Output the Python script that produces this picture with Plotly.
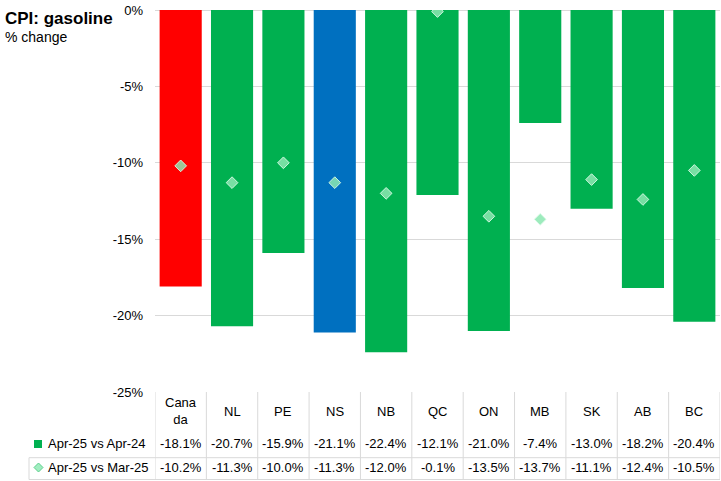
import plotly.graph_objects as go

categories = ["Canada", "NL", "PE", "NS", "NB", "QC", "ON", "MB", "SK", "AB", "BC"]
category_labels = ["Cana<br>da", "NL", "PE", "NS", "NB", "QC", "ON", "MB", "SK", "AB", "BC"]
yoy = [-18.1, -20.7, -15.9, -21.1, -22.4, -12.1, -21.0, -7.4, -13.0, -18.2, -20.4]
mom = [-10.2, -11.3, -10.0, -11.3, -12.0, -0.1, -13.5, -13.7, -11.1, -12.4, -10.5]
series_names = ["Apr-25 vs Apr-24", "Apr-25 vs Mar-25"]
tick_vals = [0, -5, -10, -15, -20, -25]

GREEN = "#00b050"
RED = "#ff0000"
BLUE = "#0070c0"
bar_colors = [RED if c == "Canada" else BLUE if c == "NS" else GREEN for c in categories]
FONT = "Liberation Sans"
GRID = "#d9d9d9"

W, H = 721, 481
L, R, T, B = 155, 1, 10, 89
PW, PH = W - L - R, H - T - B


def px(xp):
    return (xp - L) / PW


def py(yp):
    return (H - B - yp) / PH


fig = go.Figure()
fig.add_trace(go.Bar(x=categories, y=yoy, marker=dict(color=bar_colors, line=dict(width=0)),
                     name=series_names[0], showlegend=False))
fig.add_trace(go.Scatter(x=categories, y=mom, mode="markers", name=series_names[1], showlegend=False,
                         marker=dict(symbol="diamond", size=9, color="rgba(140,232,178,0.85)",
                                     line=dict(color="rgba(220,250,232,0.9)", width=1))))

n = len(categories)
shapes = []
# vertical table lines
for i in range(n + 1):
    shapes.append(dict(type="line", xref="x", yref="paper", x0=i - 0.5, x1=i - 0.5,
                       y0=py(392), y1=py(479.5), line=dict(color=GRID, width=1)))
# horizontal table lines
for yy in (457.7, 479.5):
    shapes.append(dict(type="line", xref="paper", yref="paper", x0=px(29), x1=1,
                       y0=py(yy), y1=py(yy), line=dict(color=GRID, width=1)))
shapes.append(dict(type="line", xref="paper", yref="paper", x0=px(29), x1=px(29),
                   y0=py(457.7), y1=py(479.5), line=dict(color=GRID, width=1)))
# legend keys
shapes.append(dict(type="rect", xref="paper", yref="paper", x0=px(34), x1=px(42),
                   y0=py(448), y1=py(440), fillcolor=GREEN, line=dict(width=0)))
cx, cy, d = 38.5, 467.5, 4.5
shapes.append(dict(type="path", xref="paper", yref="paper",
                   path=f"M {px(cx)},{py(cy - d)} L {px(cx + d)},{py(cy)} L {px(cx)},{py(cy + d)} L {px(cx - d)},{py(cy)} Z",
                   fillcolor="rgba(150,235,185,0.9)", line=dict(color="#5ccf8d", width=1)))

annotations = []
for i, lab in enumerate(category_labels):
    annotations.append(dict(x=categories[i], y=py(411), xref="x", yref="paper", text=lab,
                            showarrow=False, font=dict(size=13, color="#000", family=FONT),
                            xanchor="center", yanchor="middle"))
    annotations.append(dict(x=categories[i], y=py(443.5), xref="x", yref="paper", text=f"{yoy[i]:.1f}%",
                            showarrow=False, font=dict(size=13, color="#000", family=FONT),
                            xanchor="center", yanchor="middle"))
    annotations.append(dict(x=categories[i], y=py(468), xref="x", yref="paper", text=f"{mom[i]:.1f}%",
                            showarrow=False, font=dict(size=13, color="#000", family=FONT),
                            xanchor="center", yanchor="middle"))
for name, yy in zip(series_names, (443.5, 468)):
    annotations.append(dict(x=px(46), y=py(yy), xref="paper", yref="paper", text=name, showarrow=False,
                            font=dict(size=13, color="#000", family=FONT), xanchor="left", yanchor="middle"))
annotations.append(dict(x=px(3), y=py(18), xref="paper", yref="paper", text="<b>CPI: gasoline</b>",
                        showarrow=False, font=dict(size=17, color="#000", family=FONT),
                        xanchor="left", yanchor="middle"))
annotations.append(dict(x=px(3), y=py(37), xref="paper", yref="paper", text="% change",
                        showarrow=False, font=dict(size=14, color="#000", family=FONT),
                        xanchor="left", yanchor="middle"))

fig.update_layout(
    width=W, height=H, margin=dict(l=L, r=R, t=T, b=B),
    paper_bgcolor="white", plot_bgcolor="white",
    bargap=0.18, showlegend=False,
    shapes=shapes, annotations=annotations,
    font=dict(family=FONT, size=13, color="#000"),
    xaxis=dict(type="category", showticklabels=False, showgrid=False, zeroline=False,
               showline=False, ticks="", range=[-0.5, n - 0.5], fixedrange=True),
    yaxis=dict(range=[-25, 0], tickvals=tick_vals, ticktext=[f"{v}%" for v in tick_vals],
               showgrid=True, gridcolor=GRID, gridwidth=1, zeroline=True, zerolinecolor=GRID,
               zerolinewidth=1, showline=False, ticks="", ticklabelstandoff=11,
               tickfont=dict(size=13, family=FONT, color="#000"), fixedrange=True),
)

fig.write_html("out.html", config={"displayModeBar": False},
               post_script="document.body.style.margin='0';document.body.style.padding='0';document.documentElement.style.overflow='hidden';")
